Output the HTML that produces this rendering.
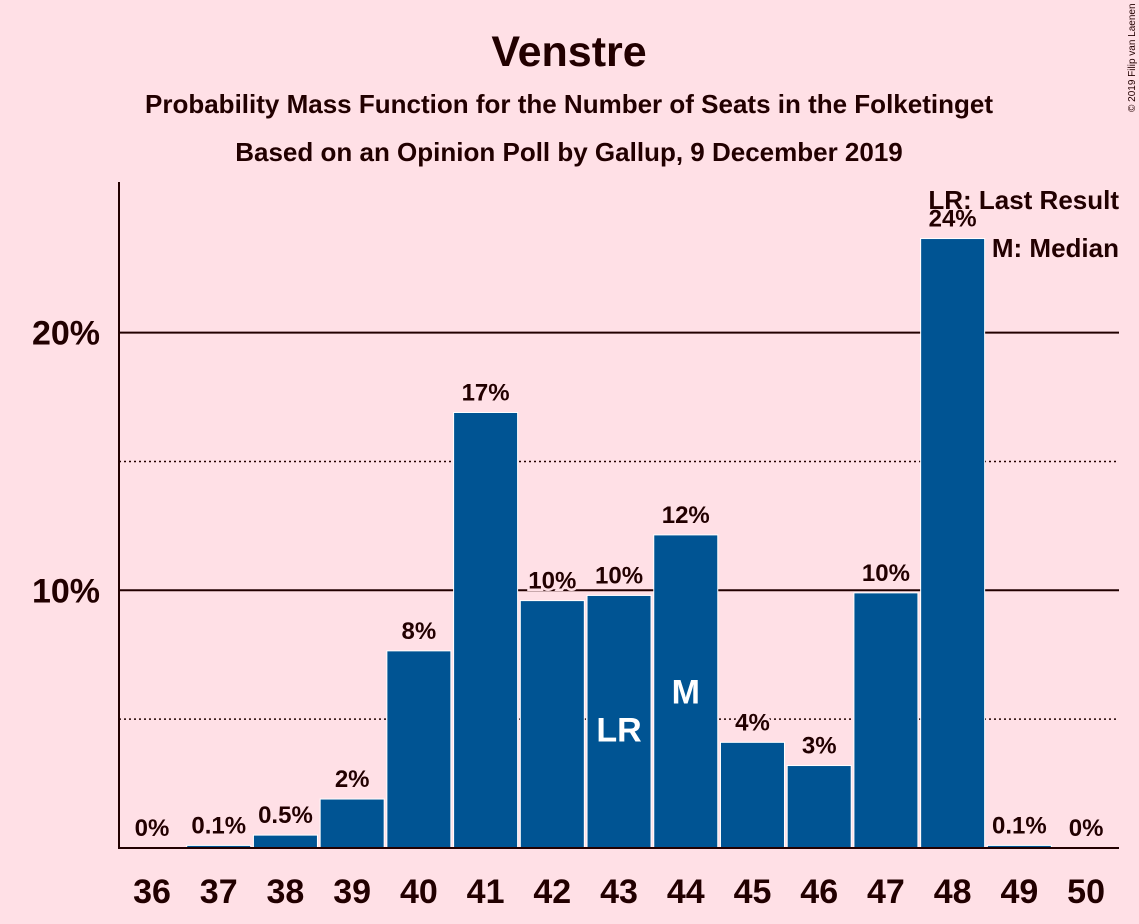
<!DOCTYPE html>
<html><head><meta charset="utf-8"><style>
body{margin:0;background:#ffe0e6;}
svg{display:block;font-family:"Liberation Sans",sans-serif;}
</style></head><body>
<svg id="chart" width="1139" height="924" viewBox="0 0 1139 924">
<rect width="1139" height="924" fill="#ffe0e6"/>
<text x="569" y="66" text-anchor="middle" font-size="43" font-weight="bold" fill="#200">Venstre</text>
<text x="569" y="113" text-anchor="middle" font-size="26" font-weight="bold" fill="#200">Probability Mass Function for the Number of Seats in the Folketinget</text>
<text x="569" y="161" text-anchor="middle" font-size="26" font-weight="bold" fill="#200">Based on an Opinion Poll by Gallup, 9 December 2019</text>
<text transform="translate(1135,112) rotate(-90)" font-size="10" fill="#200">© 2019 Filip van Laenen</text>
<g id="grid"></g>
<g id="bars"></g>
<g id="labels"></g>
<line x1="119" y1="182" x2="119" y2="849" stroke="#200" stroke-width="2"/>
<line x1="118" y1="848" x2="1119" y2="848" stroke="#200" stroke-width="2"/>
<g id="xticks"></g>
<text x="1119" y="209" text-anchor="end" font-size="26" font-weight="bold" fill="#200">LR: Last Result</text>
<text x="1119" y="257" text-anchor="end" font-size="26" font-weight="bold" fill="#200">M: Median</text>
</svg>
<script>
const seats=[36,37,38,39,40,41,42,43,44,45,46,47,48,49,50];
const probs=[0,0.1,0.5,1.9,7.65,16.9,9.6,9.8,12.15,4.1,3.2,9.9,23.65,0.1,0];
const valueLabels=["0%","0.1%","0.5%","2%","8%","17%","10%","10%","12%","4%","3%","10%","24%","0.1%","0%"];
const yTicks=[10,20];
const yTickLabels=["10%","20%"];
const dottedTicks=[5,15];
const lastResult=43, median=44;
const NS="http://www.w3.org/2000/svg";
const x=s=>152+(s-36)*66.72;
const y=v=>848-v*25.77;
function mk(tag,attrs,parent){const e=document.createElementNS(NS,tag);for(const k in attrs)e.setAttribute(k,attrs[k]);parent.appendChild(e);return e;}
const grid=document.getElementById('grid'),bars=document.getElementById('bars'),labels=document.getElementById('labels'),xt=document.getElementById('xticks');
dottedTicks.forEach(t=>{const l=mk('line',{x1:119,x2:1119,y1:y(t),y2:y(t),stroke:'#200','stroke-width':1.5,'stroke-dasharray':'2,3'},grid);

});
yTicks.forEach((t,i)=>{const l=mk('line',{x1:119,x2:1119,y1:y(t),y2:y(t),stroke:'#200','stroke-width':2},grid);


const tx=mk('text',{x:100,y:y(t)+12,'text-anchor':'end','font-size':34,'font-weight':'bold',fill:'#200'},grid);tx.textContent=yTickLabels[i];

});
seats.forEach((s,i)=>{const v=probs[i];
if(v>0){const r=mk('rect',{x:x(s)-32,y:y(v),width:64,height:848-y(v),fill:'#005493',stroke:'#ffffff','stroke-width':1},bars);

}
const lb=mk('text',{x:x(s),y:y(v)-12,'text-anchor':'middle','font-size':24,'font-weight':'bold',fill:'#200',stroke:'#ffe0e6','stroke-width':5,'paint-order':'stroke'},labels);lb.textContent=valueLabels[i];


const tk=mk('text',{x:x(s),y:903,'text-anchor':'middle','font-size':34,'font-weight':'bold',fill:'#200'},xt);tk.textContent=s;


if(s===lastResult||s===median){const m=mk('text',{x:x(s),y:s===median?y(v/2)+12:y(v/2)+20,'text-anchor':'middle','font-size':34,'font-weight':'bold',fill:'#fff'},labels);m.textContent=s===median?'M':'LR';

}
});
</script>
</body></html>
